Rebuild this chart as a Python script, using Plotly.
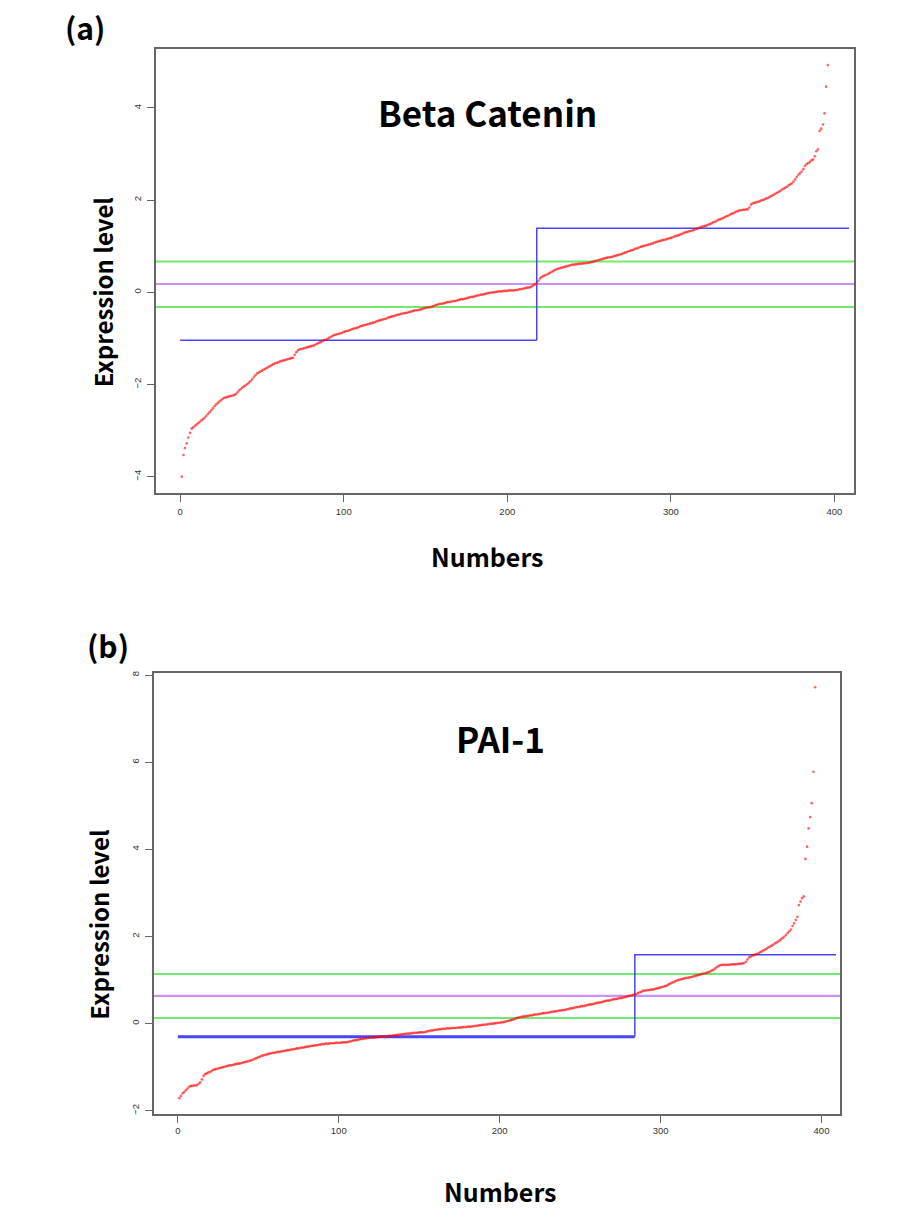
import plotly.graph_objects as go

# ---------------- data ----------------
beta_values = [
    -4.00, -3.53, -3.38, -3.28, -3.15, -3.05, -2.96, -2.93, -2.90, -2.87,
    -2.84, -2.81, -2.78, -2.75, -2.72, -2.68, -2.64, -2.60, -2.56, -2.52,
    -2.47, -2.43, -2.40, -2.37, -2.34, -2.31, -2.29, -2.28, -2.27, -2.26,
    -2.25, -2.24, -2.23, -2.21, -2.17, -2.13, -2.10, -2.07, -2.04, -2.02,
    -1.99, -1.96, -1.93, -1.89, -1.84, -1.80, -1.76, -1.74, -1.72, -1.70,
    -1.68, -1.66, -1.64, -1.62, -1.60, -1.58, -1.56, -1.54, -1.53, -1.52,
    -1.50, -1.49, -1.48, -1.47, -1.46, -1.45, -1.44, -1.43, -1.42, -1.36,
    -1.30, -1.26, -1.24, -1.23, -1.22, -1.21, -1.20, -1.19, -1.18, -1.17,
    -1.16, -1.15, -1.13, -1.11, -1.09, -1.08, -1.06, -1.04, -1.03, -1.01,
    -0.99, -0.97, -0.95, -0.93, -0.92, -0.91, -0.90, -0.89, -0.88, -0.86,
    -0.85, -0.84, -0.83, -0.82, -0.80, -0.79, -0.78, -0.77, -0.76, -0.74,
    -0.73, -0.72, -0.71, -0.70, -0.69, -0.68, -0.67, -0.66, -0.65, -0.63,
    -0.62, -0.61, -0.60, -0.59, -0.58, -0.57, -0.55, -0.54, -0.53, -0.52,
    -0.51, -0.50, -0.49, -0.48, -0.47, -0.46, -0.45, -0.45, -0.44, -0.43,
    -0.42, -0.41, -0.40, -0.39, -0.39, -0.38, -0.37, -0.36, -0.35, -0.34,
    -0.33, -0.33, -0.32, -0.31, -0.30, -0.28, -0.27, -0.26, -0.25, -0.25,
    -0.24, -0.23, -0.22, -0.21, -0.21, -0.20, -0.19, -0.19, -0.18, -0.17,
    -0.16, -0.15, -0.15, -0.14, -0.13, -0.12, -0.11, -0.10, -0.10, -0.09,
    -0.08, -0.07, -0.06, -0.05, -0.05, -0.04, -0.03, -0.02, -0.01, -0.01,
    0.00, 0.00, 0.01, 0.01, 0.02, 0.02, 0.02, 0.03, 0.03, 0.03,
    0.04, 0.04, 0.04, 0.04, 0.05, 0.05, 0.06, 0.07, 0.07, 0.08,
    0.09, 0.10, 0.10, 0.11, 0.13, 0.15, 0.17, 0.20, 0.25, 0.30,
    0.33, 0.35, 0.37, 0.38, 0.40, 0.42, 0.44, 0.46, 0.48, 0.50,
    0.51, 0.52, 0.53, 0.54, 0.55, 0.56, 0.57, 0.58, 0.59, 0.60,
    0.60, 0.61, 0.61, 0.62, 0.62, 0.62, 0.63, 0.63, 0.64, 0.64,
    0.65, 0.66, 0.67, 0.68, 0.69, 0.70, 0.71, 0.72, 0.73, 0.74,
    0.75, 0.76, 0.76, 0.77, 0.78, 0.79, 0.80, 0.81, 0.82, 0.83,
    0.85, 0.86, 0.87, 0.89, 0.90, 0.91, 0.92, 0.94, 0.95, 0.96,
    0.98, 0.99, 1.00, 1.01, 1.02, 1.03, 1.04, 1.05, 1.06, 1.08,
    1.09, 1.10, 1.11, 1.12, 1.13, 1.14, 1.15, 1.16, 1.17, 1.18,
    1.19, 1.21, 1.22, 1.23, 1.24, 1.26, 1.27, 1.29, 1.30, 1.31,
    1.32, 1.33, 1.34, 1.35, 1.37, 1.38, 1.39, 1.41, 1.42, 1.43,
    1.44, 1.45, 1.47, 1.48, 1.50, 1.52, 1.53, 1.55, 1.57, 1.58,
    1.60, 1.61, 1.63, 1.65, 1.66, 1.68, 1.70, 1.71, 1.73, 1.75,
    1.76, 1.78, 1.78, 1.79, 1.79, 1.80, 1.80, 1.84, 1.90, 1.93,
    1.94, 1.95, 1.96, 1.97, 1.99, 2.00, 2.01, 2.03, 2.04, 2.06,
    2.08, 2.10, 2.12, 2.14, 2.16, 2.18, 2.20, 2.23, 2.25, 2.27,
    2.29, 2.32, 2.34, 2.36, 2.40, 2.45, 2.50, 2.55, 2.58, 2.62,
    2.67, 2.74, 2.78, 2.80, 2.83, 2.86, 2.88, 2.95, 3.06, 3.10,
    3.50, 3.55, 3.64, 3.88, 4.46, 4.93,
]

pai_values = [
    -1.71, -1.66, -1.60, -1.57, -1.53, -1.49, -1.45, -1.43, -1.43, -1.42,
    -1.42, -1.41, -1.38, -1.35, -1.28, -1.20, -1.16, -1.14, -1.12, -1.11,
    -1.09, -1.06, -1.05, -1.04, -1.03, -1.02, -1.01, -1.00, -0.99, -0.98,
    -0.97, -0.96, -0.96, -0.95, -0.94, -0.93, -0.92, -0.92, -0.91, -0.90,
    -0.89, -0.88, -0.87, -0.86, -0.85, -0.84, -0.82, -0.80, -0.79, -0.77,
    -0.76, -0.74, -0.73, -0.72, -0.71, -0.70, -0.69, -0.68, -0.67, -0.67,
    -0.66, -0.65, -0.65, -0.64, -0.63, -0.63, -0.62, -0.61, -0.61, -0.60,
    -0.59, -0.59, -0.58, -0.57, -0.57, -0.56, -0.55, -0.55, -0.54, -0.53,
    -0.53, -0.52, -0.51, -0.51, -0.50, -0.50, -0.49, -0.48, -0.48, -0.47,
    -0.47, -0.46, -0.46, -0.46, -0.45, -0.45, -0.45, -0.44, -0.44, -0.44,
    -0.44, -0.43, -0.43, -0.43, -0.43, -0.42, -0.41, -0.40, -0.39, -0.38,
    -0.38, -0.37, -0.36, -0.35, -0.35, -0.34, -0.34, -0.33, -0.33, -0.32,
    -0.32, -0.32, -0.31, -0.31, -0.30, -0.30, -0.30, -0.29, -0.29, -0.29,
    -0.28, -0.28, -0.28, -0.27, -0.27, -0.26, -0.26, -0.25, -0.25, -0.24,
    -0.24, -0.23, -0.23, -0.23, -0.22, -0.22, -0.21, -0.21, -0.21, -0.20,
    -0.20, -0.20, -0.20, -0.19, -0.18, -0.17, -0.16, -0.16, -0.15, -0.14,
    -0.14, -0.13, -0.13, -0.12, -0.12, -0.12, -0.11, -0.11, -0.11, -0.10,
    -0.10, -0.10, -0.10, -0.09, -0.09, -0.09, -0.08, -0.08, -0.08, -0.07,
    -0.07, -0.07, -0.06, -0.06, -0.05, -0.05, -0.04, -0.04, -0.03, -0.03,
    -0.02, -0.02, -0.01, -0.01, 0.00, 0.00, 0.01, 0.01, 0.02, 0.02,
    0.03, 0.03, 0.04, 0.05, 0.06, 0.07, 0.08, 0.09, 0.10, 0.12,
    0.13, 0.14, 0.15, 0.16, 0.16, 0.17, 0.17, 0.18, 0.19, 0.19,
    0.20, 0.21, 0.21, 0.22, 0.22, 0.23, 0.24, 0.24, 0.25, 0.25,
    0.26, 0.27, 0.27, 0.28, 0.28, 0.29, 0.30, 0.30, 0.31, 0.31,
    0.32, 0.33, 0.34, 0.35, 0.35, 0.36, 0.37, 0.38, 0.38, 0.39,
    0.40, 0.40, 0.41, 0.42, 0.43, 0.44, 0.44, 0.45, 0.46, 0.47,
    0.48, 0.48, 0.49, 0.50, 0.51, 0.52, 0.53, 0.53, 0.54, 0.55,
    0.56, 0.56, 0.57, 0.58, 0.59, 0.59, 0.60, 0.61, 0.62, 0.63,
    0.64, 0.65, 0.66, 0.67, 0.68, 0.70, 0.72, 0.73, 0.75, 0.76,
    0.76, 0.77, 0.77, 0.78, 0.78, 0.79, 0.80, 0.81, 0.82, 0.83,
    0.84, 0.85, 0.86, 0.88, 0.90, 0.92, 0.94, 0.95, 0.97, 0.99,
    1.00, 1.01, 1.02, 1.03, 1.04, 1.05, 1.05, 1.06, 1.07, 1.08,
    1.09, 1.10, 1.11, 1.12, 1.13, 1.14, 1.15, 1.16, 1.17, 1.18,
    1.20, 1.22, 1.24, 1.27, 1.30, 1.32, 1.34, 1.35, 1.35, 1.35,
    1.35, 1.35, 1.35, 1.36, 1.36, 1.36, 1.36, 1.37, 1.37, 1.38,
    1.38, 1.39, 1.42, 1.47, 1.52, 1.54, 1.56, 1.57, 1.59, 1.60,
    1.61, 1.64, 1.66, 1.68, 1.70, 1.72, 1.75, 1.77, 1.79, 1.81,
    1.84, 1.86, 1.88, 1.91, 1.94, 1.97, 2.00, 2.04, 2.08, 2.12,
    2.16, 2.24, 2.30, 2.38, 2.45, 2.72, 2.80, 2.88, 2.92, 3.78,
    4.06, 4.48, 4.74, 5.06, 5.78, 7.72,
]

# thresholds / step lines
beta_green = [0.67, -0.32]
beta_purple = 0.18
beta_step_x = [0, 218, 218, 409]
beta_step_y = [-1.04, -1.04, 1.39, 1.39]

pai_green = [1.14, 0.13]
pai_purple = 0.635
pai_step_x = [0, 284, 284, 409]
pai_step_y = [-0.30, -0.30, 1.58, 1.58]

x_ticks = [0, 100, 200, 300, 400]
beta_y_ticks = [-4, -2, 0, 2, 4]
pai_y_ticks = [-2, 0, 2, 4, 6, 8]

titles = ["Beta Catenin", "PAI-1"]
panel_labels = ["(a)", "(b)"]
x_title = "Numbers"
y_title = "Expression level"

# ---------------- figure ----------------
W, H = 910, 1220
fig = go.Figure()

GREEN = "rgb(110,235,110)"
PURPLE = "rgb(205,145,245)"
BLUE = "rgb(70,70,255)"
RED = "rgba(255,0,0,0.6)"


def px_dom_x(a, b):
    return [a / W, b / W]


def px_dom_y(top, bottom):
    return [1 - bottom / H, 1 - top / H]


panels = [
    dict(vals=beta_values, green=beta_green, purple=beta_purple,
         sx=beta_step_x, sy=beta_step_y, xa="x", ya="y",
         xdom=px_dom_x(156, 854), ydom=px_dom_y(47.5, 492),
         xrange=[-14.8, 412], yrange=[-4.35, 5.27], yticks=beta_y_ticks,
         bw_low=1.5, bw_high=1.5, xstand=2),
    dict(vals=pai_values, green=pai_green, purple=pai_purple,
         sx=pai_step_x, sy=pai_step_y, xa="x2", ya="y2",
         xdom=px_dom_x(154, 840), ydom=px_dom_y(672.5, 1115),
         xrange=[-14.8, 411.5], yrange=[-2.08, 8.05], yticks=pai_y_ticks,
         bw_low=3.0, bw_high=1.5, xstand=0),
]

layout_axes = {}
for k, p in enumerate(panels):
    n = len(p["vals"])
    idx = list(range(1, n + 1))
    for g in p["green"]:
        fig.add_trace(go.Scatter(x=[p["xrange"][0], p["xrange"][1]], y=[g, g],
                                 mode="lines", line=dict(color=GREEN, width=2),
                                 xaxis=p["xa"], yaxis=p["ya"], showlegend=False,
                                 hoverinfo="skip"))
    fig.add_trace(go.Scatter(x=[p["xrange"][0], p["xrange"][1]], y=[p["purple"], p["purple"]],
                             mode="lines", line=dict(color=PURPLE, width=2.2),
                             xaxis=p["xa"], yaxis=p["ya"], showlegend=False,
                             hoverinfo="skip"))
    fig.add_trace(go.Scatter(x=p["sx"][:2], y=p["sy"][:2], mode="lines",
                             line=dict(color=BLUE, width=p["bw_low"]),
                             xaxis=p["xa"], yaxis=p["ya"], showlegend=False,
                             hoverinfo="skip"))
    fig.add_trace(go.Scatter(x=p["sx"][1:], y=p["sy"][1:], mode="lines",
                             line=dict(color=BLUE, width=p["bw_high"]),
                             xaxis=p["xa"], yaxis=p["ya"], showlegend=False,
                             hoverinfo="skip"))
    fig.add_trace(go.Scatter(x=idx, y=p["vals"], mode="markers",
                             marker=dict(color=RED, size=2.7, line=dict(width=0)),
                             xaxis=p["xa"], yaxis=p["ya"], showlegend=False))

    sfx = "" if k == 0 else "2"
    common = dict(showgrid=False, zeroline=False, showline=True, mirror=True,
                  linecolor="#666666", linewidth=1.5, ticks="outside",
                  tickcolor="#666666", tickwidth=1.2,
                  tickfont=dict(family="Liberation Sans, Arial, sans-serif",
                                size=9.5, color="#333333"))
    layout_axes["xaxis" + sfx] = dict(
        common, domain=p["xdom"], range=p["xrange"], tickvals=x_ticks,
        ticklen=7, ticklabelstandoff=p["xstand"],
        anchor="y" + sfx)
    layout_axes["yaxis" + sfx] = dict(
        common, domain=p["ydom"], range=p["yrange"], tickvals=p["yticks"],
        ticklen=7, tickangle=-90, ticklabelstandoff=2,
        anchor="x" + sfx)

fig.update_layout(**layout_axes)

BOLD_FONT = "Noto Sans CJK KR, Noto Sans, sans-serif"

annotations = [
    dict(text="<b>%s</b>" % titles[0], x=487 / W, y=1 - 110 / H, size=35),
    dict(text="<b>%s</b>" % titles[1], x=500 / W, y=1 - 737 / H, size=35),
    dict(text="<b>%s</b>" % panel_labels[0], x=85 / W, y=1 - 25 / H, size=30),
    dict(text="<b>%s</b>" % panel_labels[1], x=108 / W, y=1 - 645 / H, size=30),
    dict(text="<b>%s</b>" % x_title, x=487 / W, y=1 - 555 / H, size=25),
    dict(text="<b>%s</b>" % x_title, x=500 / W, y=1 - 1192 / H, size=25),
    dict(text="<b>%s</b>" % y_title, x=102 / W, y=1 - 291 / H, size=24, angle=-90),
    dict(text="<b>%s</b>" % y_title, x=99 / W, y=1 - 925 / H, size=24, angle=-90),
]
fig.update_layout(annotations=[
    dict(text=a["text"], x=a["x"], y=a["y"], xref="paper", yref="paper",
         xanchor="center", yanchor="middle", showarrow=False,
         textangle=a.get("angle", 0),
         font=dict(family=BOLD_FONT, size=a["size"], color="black"))
    for a in annotations
])

fig.update_layout(width=W, height=H, margin=dict(l=0, r=0, t=0, b=0),
                  paper_bgcolor="white", plot_bgcolor="white",
                  showlegend=False)

fig.write_html("out.html",
               config={"displayModeBar": False},
               post_script="document.body.style.margin='0px';"
                           "document.body.style.overflow='hidden';")
